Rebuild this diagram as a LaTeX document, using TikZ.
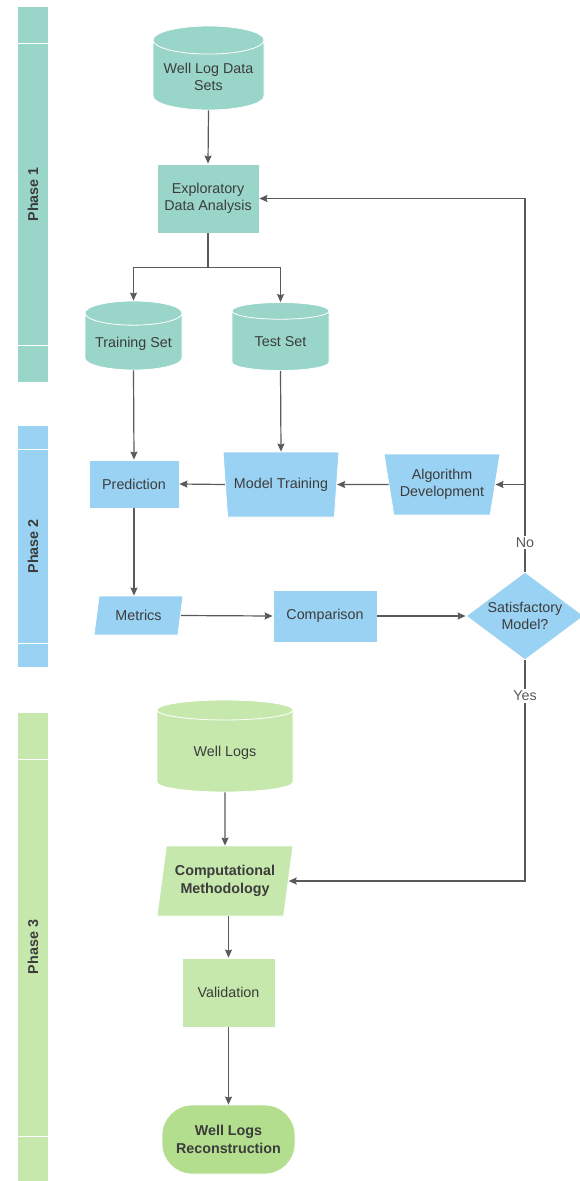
\documentclass[tikz,border=0pt]{standalone}
\usepackage{fontspec}
\setmainfont{Liberation Sans}
\usetikzlibrary{arrows.meta, positioning, shapes.geometric}
\definecolor{tealbox}{HTML}{9AD5CA}
\definecolor{bluebox}{HTML}{99D2F2}
\definecolor{greenbox}{HTML}{C7E8AC}
\definecolor{greenend}{HTML}{B2DE8E}
\definecolor{inkgray}{HTML}{3C3C3C}
\definecolor{wiregray}{HTML}{5A5A5A}

\tikzset{
  every node/.style={font=\fontsize{14.3}{17.5}\selectfont, text=inkgray, align=center},
  proc/.style={rectangle, draw=white, line width=0.8pt, inner sep=2pt},
  store/.style={cylinder, shape border rotate=90, aspect=0.3, anchor=shape center, draw=white, line width=0.8pt, inner sep=2pt},
  manual/.style={trapezium, trapezium angle=75, shape border rotate=180, trapezium stretches=true, draw=white, line width=0.8pt, inner sep=1pt},
  datain/.style={trapezium, trapezium left angle=76, trapezium right angle=104, trapezium stretches=true, draw=white, line width=0.8pt, inner sep=1pt},
  decide/.style={diamond, aspect=1.34, draw=white, line width=0.8pt, inner sep=0pt},
  terminal/.style={rectangle, rounded corners=30pt, draw=white, line width=0.8pt, inner sep=2pt},
  wire/.style={draw=wiregray, line width=1.2pt, -{Stealth[length=8pt, width=7pt, inset=1pt]}},
  tag/.style={fill=white, inner sep=2pt, text=wiregray},
  lane/.style={draw=white, line width=1pt},
  lanetext/.style={rotate=90, font=\bfseries\fontsize{14.3}{17.5}\selectfont}
}

\begin{document}
\begin{tikzpicture}[x=1pt, y=-1pt]
  \useasboundingbox (0,0) rectangle (580,1181);

  % swim lanes
  \fill[tealbox] (18,7) rectangle (48,382);
  \draw[lane] (18,43) -- (48,43) (18,345) -- (48,345);
  \node[lanetext] (ph1) at (33,194.5) {Phase 1};

  \fill[bluebox] (18,426) rectangle (48,667);
  \draw[lane] (18,449) -- (48,449) (18,643) -- (48,643);
  \node[lanetext] (ph2) at (33,546.5) {Phase 2};

  \fill[greenbox] (18,713) rectangle (48,1181);
  \draw[lane] (18,759) -- (48,759) (18,1136) -- (48,1136);
  \node[lanetext] (ph3) at (33,947) {Phase 3};

  % phase 1
  \node[store, fill=tealbox, minimum width=111pt, minimum height=84pt] (wlds) at (208.5,68) {Well Log Data\\Sets};
  \node[proc, fill=tealbox, minimum width=102pt, minimum height=69pt] (eda) at (208,198.5) {Exploratory\\Data Analysis};
  \node[store, fill=tealbox, minimum width=97pt, minimum height=69pt] (trset) at (133.5,335.5) {Training Set};
  \node[store, fill=tealbox, minimum width=97pt, minimum height=68pt] (teset) at (280.5,336.5) {Test Set};

  % phase 2
  \node[proc, fill=bluebox, minimum width=90pt, minimum height=48pt] (pred) at (134,484) {Prediction};
  \node[manual, fill=bluebox, minimum width=116pt, minimum height=65pt] (mtrain) at (281,484.5) {Model Training};
  \node[manual, fill=bluebox, minimum width=116pt, minimum height=61pt] (algdev) at (442,484.5) {Algorithm\\Development};
  \node[datain, fill=bluebox, minimum width=89pt, minimum height=39pt] (metrics) at (138.5,615.5) {Metrics};
  \node[proc, fill=bluebox, minimum width=104pt, minimum height=52pt] (comp) at (325,616) {Comparison};
  \node[decide, fill=bluebox, minimum width=118pt, minimum height=88pt] (satis) at (525,616) {Satisfactory\\Model?};

  % phase 3
  \node[store, fill=greenbox, minimum width=136pt, minimum height=92pt] (wlogs) at (225,746) {Well Logs};
  \node[datain, fill=greenbox, font=\bfseries\fontsize{14.3}{17.5}\selectfont, minimum width=136pt, minimum height=70pt] (cmeth) at (225,881) {Computational\\Methodology};
  \node[proc, fill=greenbox, minimum width=93pt, minimum height=69pt] (valid) at (228.5,992.5) {Validation};
  \node[terminal, fill=greenend, font=\bfseries\fontsize{14.3}{17.5}\selectfont, minimum width=133pt, minimum height=69pt] (wlrec) at (228.5,1139.5) {Well Logs\\Reconstruction};

  \coordinate (noturn) at (satis.north |- eda.east);
  \coordinate (nobranch) at (satis.north |- algdev.east);

  % connectors
  \draw[wire] (wlds.south) -- (eda.north);
  \draw[wire] (eda.south) -- ++(0,34) -| (trset.north);
  \draw[wire] (eda.south) -- ++(0,34) -| (teset.north);
  \draw[wire] (trset.south) -- (pred.north);
  \draw[wire] (teset.south) -- (mtrain.north);
  \draw[wire] (algdev.west) -- (mtrain.east);
  \draw[wire] (mtrain.west) -- (pred.east);
  \draw[wire] (pred.south) -- (pred.south |- metrics.north);
  \draw[wire] (metrics.east) -- (comp.west);
  \draw[wire] (comp.east) -- (satis.west);
  \draw[wire] (satis.north) -- node[tag, pos=0.078] {No} (noturn) -- (eda.east);
  \draw[wire] (nobranch) -- (algdev.east);
  \draw[wire] (satis.south) -- node[tag, pos=0.16] {Yes} (satis.south |- cmeth.east) -- (cmeth.east);
  \draw[wire] (wlogs.south) -- (cmeth.north);
  \draw[wire] (valid.north |- cmeth.south) -- (valid.north);
  \draw[wire] (valid.south) -- (wlrec.north);
\end{tikzpicture}
\end{document}
